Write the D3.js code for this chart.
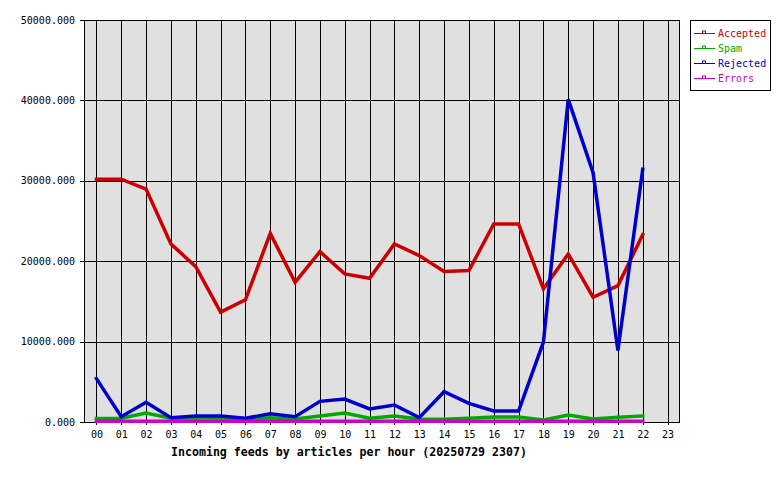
<!DOCTYPE html>
<html>
<head>
<meta charset="utf-8">
<script src="https://cdn.jsdelivr.net/npm/d3@7"></script>
<style>
  html, body { margin: 0; padding: 0; background: #ffffff; }
  svg { display: block; }
  text { font-family: "DejaVu Sans Mono", "Liberation Mono", monospace; }
</style>
</head>
<body>
<svg id="chart" width="780" height="480"></svg>
<script>
const hours = ["00","01","02","03","04","05","06","07","08","09","10","11","12","13","14","15","16","17","18","19","20","21","22","23"];
const yTicks = [0, 10000, 20000, 30000, 40000, 50000];
const seriesNames = ["Accepted", "Spam", "Rejected", "Errors"];
const seriesColors = ["#cc0000", "#00aa00", "#0000cc", "#cc00cc"];

const accepted = [30200, 30200, 28970, 22150, 19330, 13660, 15200, 23460, 17380, 21190, 18420, 17880, 22150, 20700, 18710, 18830, 24630, 24630, 16560, 20900, 15520, 16970, 23300];
const spam     = [430, 460, 1120, 460, 500, 500, 330, 540, 370, 750, 1120, 460, 750, 370, 330, 460, 620, 620, 250, 870, 370, 580, 750];
const rejected = [5400, 660, 2450, 540, 750, 750, 460, 1030, 660, 2570, 2860, 1620, 2110, 540, 3770, 2320, 1370, 1370, 9940, 40130, 31000, 8900, 31450];
const errors   = [100, 100, 100, 100, 100, 100, 100, 100, 100, 100, 100, 100, 100, 100, 100, 100, 100, 100, 100, 100, 100, 100, 100];
const titleText = "Incoming feeds by articles per hour (20250729 2307)";

const seriesData = [accepted, spam, rejected, errors];

const svg = d3.select("#chart");
const pLeft = 84, pRight = 680, pTop = 20, pBottom = 422;

const x = d3.scaleLinear().domain([-0.5, 23.5]).range([pLeft, pRight]);
const y = d3.scaleLinear().domain([0, 50000]).range([pBottom, pTop]);

// plot background
svg.append("rect")
  .attr("x", pLeft).attr("y", pTop)
  .attr("width", pRight - pLeft).attr("height", pBottom - pTop)
  .attr("fill", "#e0e0e0");

// vertical grid lines
svg.append("g").selectAll("line").data(hours).join("line")
  .attr("x1", (d, i) => Math.round(x(i)) + 0.5)
  .attr("x2", (d, i) => Math.round(x(i)) + 0.5)
  .attr("y1", pTop).attr("y2", pBottom + 3)
  .attr("stroke", "#000").attr("stroke-width", 1);

// horizontal grid lines
svg.append("g").selectAll("line").data(yTicks).join("line")
  .attr("x1", pLeft - 4).attr("x2", pRight)
  .attr("y1", d => Math.round(y(d)) + 0.5)
  .attr("y2", d => Math.round(y(d)) + 0.5)
  .attr("stroke", "#000").attr("stroke-width", 1);

// frame
svg.append("rect")
  .attr("x", pLeft + 0.5).attr("y", pTop + 0.5)
  .attr("width", pRight - pLeft - 1).attr("height", pBottom - pTop)
  .attr("fill", "none").attr("stroke", "#000").attr("stroke-width", 1);

// y labels
const fmt = d3.format(".3f");
svg.append("g").selectAll("text").data(yTicks).join("text")
  .attr("x", 75).attr("y", d => y(d) + 3.5)
  .attr("text-anchor", "end")
  .attr("font-size", "10px")
  .attr("fill", "#000")
  .text(d => fmt(d));

// x labels
svg.append("g").selectAll("text").data(hours).join("text")
  .attr("x", (d, i) => x(i) + 0.5).attr("y", 438)
  .attr("text-anchor", "middle")
  .attr("font-size", "10px")
  .attr("fill", "#000")
  .text(d => d);

// title
svg.append("text")
  .attr("x", 349).attr("y", 456)
  .attr("text-anchor", "middle")
  .attr("font-size", "11.6px")
  .attr("font-weight", "bold")
  .attr("fill", "#000")
  .text(titleText);

// series lines
const line = d3.line().x((d, i) => x(i)).y(d => y(d));
seriesData.forEach((vals, si) => {
  svg.append("path")
    .datum(vals)
    .attr("d", line)
    .attr("fill", "none")
    .attr("stroke", seriesColors[si])
    .attr("stroke-width", 3.5)
    .attr("stroke-linejoin", "miter")
    .attr("stroke-linecap", "square");
});

// legend
const lg = svg.append("g");
lg.append("rect")
  .attr("x", 690.5).attr("y", 20.5)
  .attr("width", 80).attr("height", 70)
  .attr("fill", "#fff").attr("stroke", "#000").attr("stroke-width", 1);
seriesNames.forEach((name, i) => {
  const ly = 33.5 + i * 15;
  lg.append("line")
    .attr("x1", 694).attr("x2", 715)
    .attr("y1", ly).attr("y2", ly)
    .attr("stroke", seriesColors[i]).attr("stroke-width", 1);
  lg.append("rect")
    .attr("x", 702.5).attr("y", ly - 2.5)
    .attr("width", 3).attr("height", 2.5)
    .attr("fill", "none").attr("stroke", seriesColors[i]).attr("stroke-width", 1);
  lg.append("text")
    .attr("x", 718).attr("y", ly + 3.5)
    .attr("font-size", "10px")
    .attr("fill", seriesColors[i])
    .text(name);
});
</script>
</body>
</html>
